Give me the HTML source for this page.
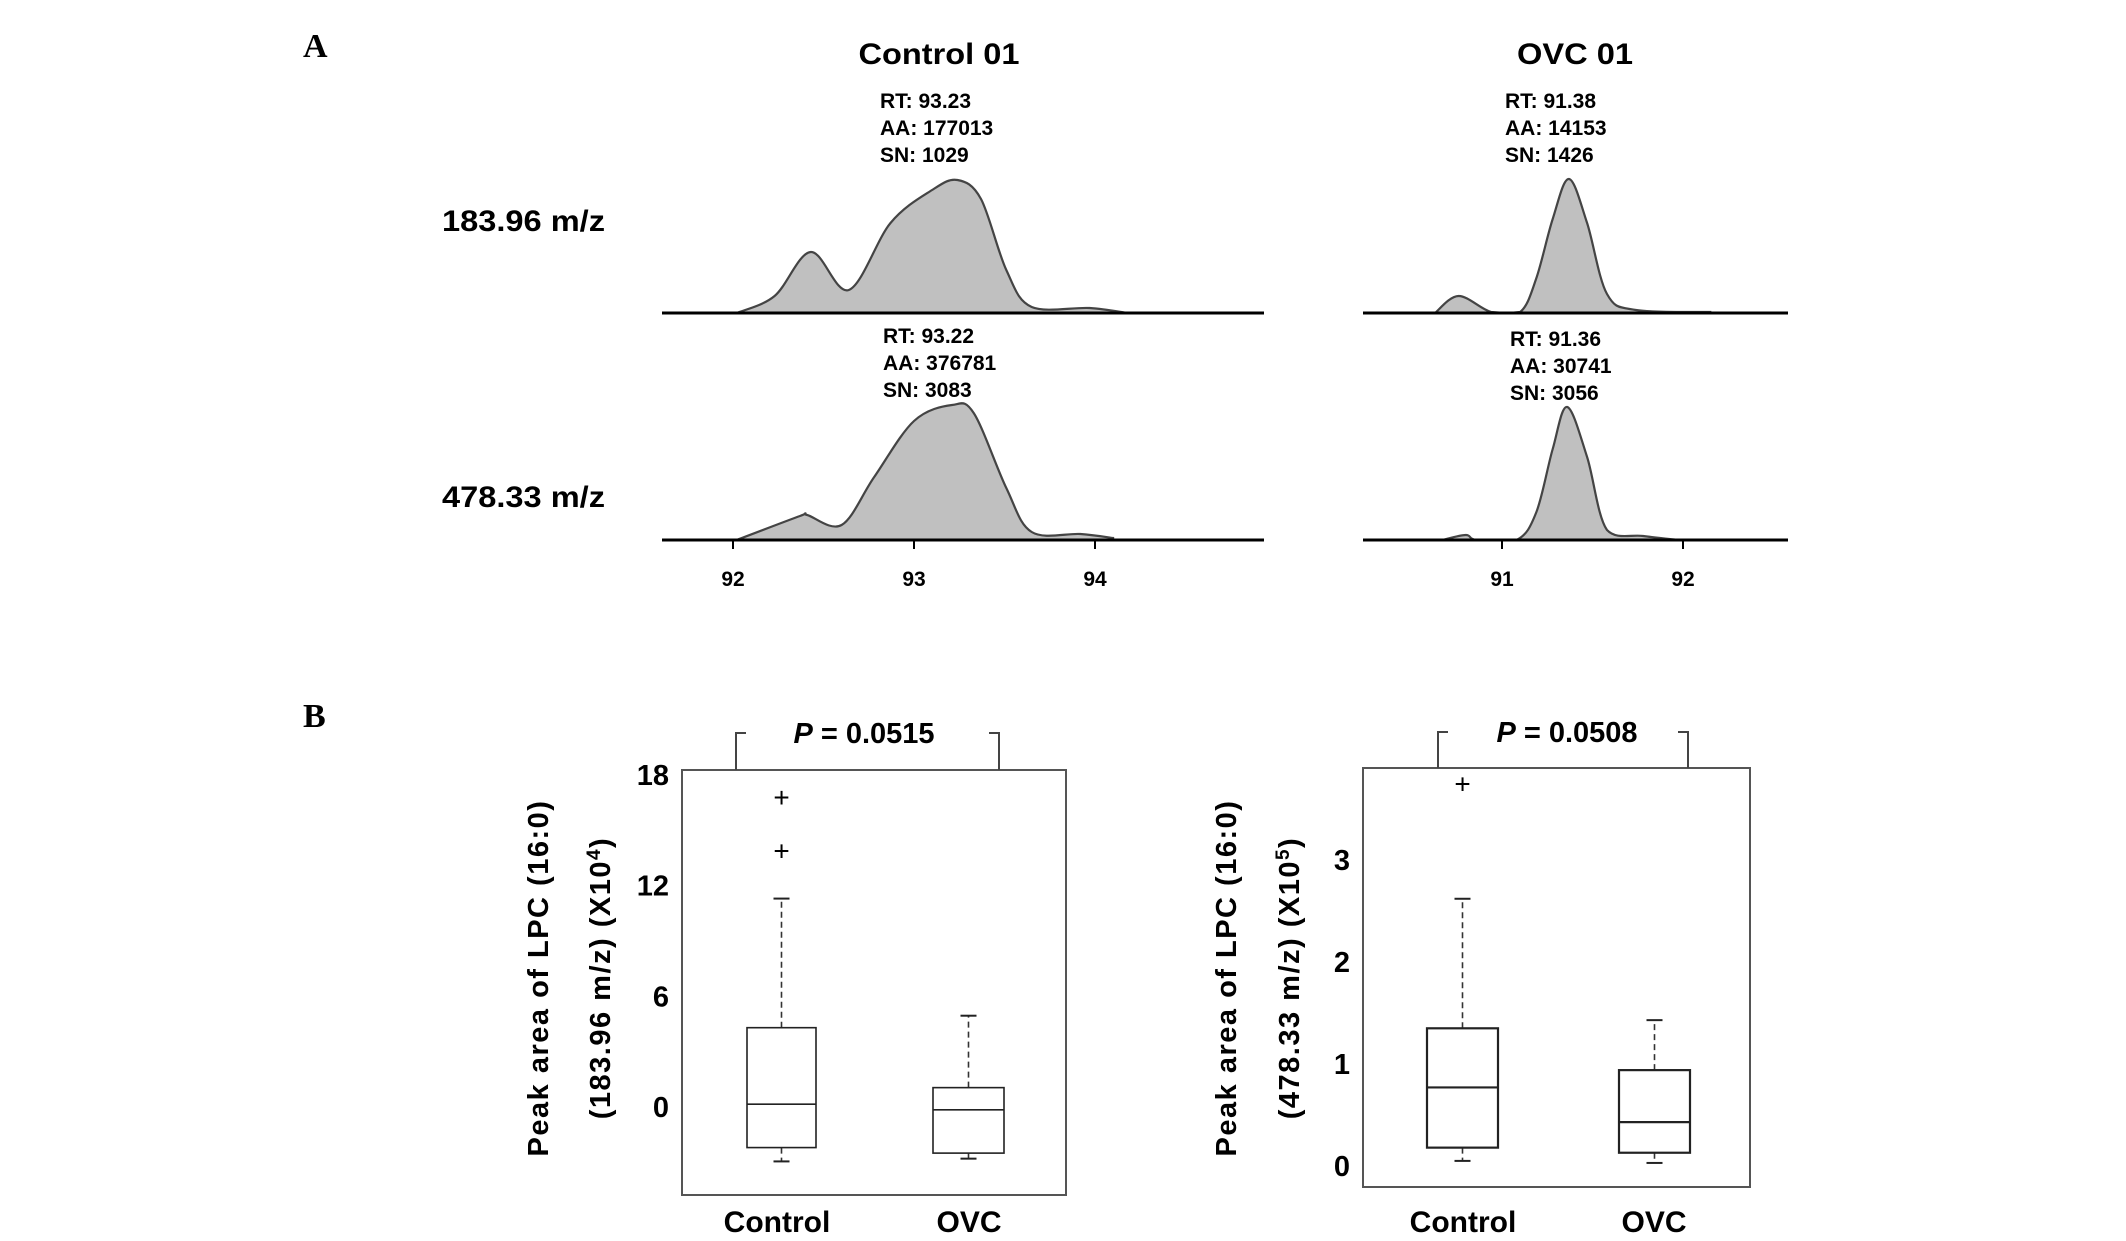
<!DOCTYPE html>
<html><head><meta charset="utf-8">
<style>
html,body{margin:0;padding:0;background:#fff;}
svg{display:block;font-family:"Liberation Sans",Arial,sans-serif;font-weight:bold;}
</style></head>
<body>
<svg id="fig" width="2126" height="1241" viewBox="0 0 2126 1241" xmlns="http://www.w3.org/2000/svg">
<rect width="2126" height="1241" fill="#fff"/>
<text x="303" y="57" font-family="Liberation Serif,serif" font-size="34">A</text>
<text x="303" y="727" font-family="Liberation Serif,serif" font-size="34">B</text>
<text x="939" y="64" text-anchor="middle" font-size="30" textLength="161" lengthAdjust="spacingAndGlyphs">Control 01</text>
<text x="1575" y="64" text-anchor="middle" font-size="30" textLength="116" lengthAdjust="spacingAndGlyphs">OVC 01</text>
<text x="442" y="231" font-size="30" textLength="163" lengthAdjust="spacingAndGlyphs">183.96 m/z</text>
<text x="442" y="507" font-size="30" textLength="163" lengthAdjust="spacingAndGlyphs">478.33 m/z</text>
<g id="chrom"></g>
<g id="boxes"></g>
</svg>
<script>
// ---- Chromatogram data (retention time, relative intensity) ----
const ctrl183RT = [92.02,92.23,92.43,92.64,92.87,93.10,93.24,93.37,93.51,93.65,93.97,94.18];
const ctrl183I  = [4,17,61,23,90,123,133,114,43,6,5,0];
const ctrl478RT = [92.02,92.37,92.41,92.60,92.78,93.00,93.21,93.33,93.51,93.65,93.92,94.10];
const ctrl478I  = [0,24,25,15,63,119,135,127,52,8,6,2];
const ovc183RT = [90.63,90.76,90.94,91.10,91.19,91.28,91.37,91.47,91.58,91.74,92.15];
const ovc183I  = [0,17,1,1,35,94,134,90,19,3,1];
const ovc478RT = [90.67,90.80,90.86,91.08,91.19,91.28,91.36,91.47,91.58,91.78,91.98];
const ovc478I  = [2,5,0,0,28,91,133,83,10,4,0];
const ctrlTicks = [92,93,94];
const ovcTicks = [91,92];

// ---- Box plot data ----
const groups = ["Control","OVC"];
// left plot (x10^4)
const lTicks = [18,12,6,0];
const lWhiskLo = [-2.95,-2.8];
const lQ1 = [-2.2,-2.5];
const lMed = [0.15,-0.15];
const lQ3 = [4.3,1.05];
const lWhiskHi = [11.3,4.95];
const lOutliers = [[16.8,13.9],[]];
// right plot (x10^5)
const rTicks = [3,2,1,0];
const rWhiskLo = [0.05,0.03];
const rQ1 = [0.18,0.13];
const rMed = [0.77,0.43];
const rQ3 = [1.35,0.94];
const rWhiskHi = [2.62,1.43];
const rOutliers = [[3.75],[]];

const NS="http://www.w3.org/2000/svg";
function mk(tag,attrs,parent){const e=document.createElementNS(NS,tag);for(const k in attrs)e.setAttribute(k,attrs[k]);parent.appendChild(e);return e;}

const chrom=document.getElementById('chrom');
function smoothPath(pts){
  let d="M"+pts[0][0]+","+pts[0][1];
  for(let i=0;i<pts.length-1;i++){
    const p0=pts[i-1]||pts[i],p1=pts[i],p2=pts[i+1],p3=pts[i+2]||p2;
    const c1=[p1[0]+(p2[0]-p0[0])/6,p1[1]+(p2[1]-p0[1])/6];
    const c2=[p2[0]-(p3[0]-p1[0])/6,p2[1]-(p3[1]-p1[1])/6];
    const b=pts[0][1];
    d+=` C${c1[0].toFixed(1)},${Math.min(c1[1],b).toFixed(1)} ${c2[0].toFixed(1)},${Math.min(c2[1],b).toFixed(1)} ${p2[0].toFixed(1)},${p2[1].toFixed(1)}`;
  }
  return d;
}
function drawPeak(rts,ints,xf,base,name){
  const pts=rts.map((r,i)=>[xf(r),Math.min(base,base-ints[i])]);
  pts[0][1]=base;
  let d=smoothPath(pts);
  const fill=d+` L${pts[pts.length-1][0]},${base} L${pts[0][0]},${base} Z`;
  const p=mk('path',{d:fill,fill:'#c0c0c0',stroke:'#444','stroke-width':2.2},chrom);
  
  
}
const xCtrl=r=>733+(r-92)*181;
const xOvc=r=>1502+(r-91)*181;
drawPeak(ctrl183RT,ctrl183I,xCtrl,313,'peak-control-183');
drawPeak(ctrl478RT,ctrl478I,xCtrl,540,'peak-control-478');
drawPeak(ovc183RT,ovc183I,xOvc,313,'peak-ovc-183');
drawPeak(ovc478RT,ovc478I,xOvc,540,'peak-ovc-478');
[[662,1264,313,'baseline-control-183'],[662,1264,540,'baseline-control-478'],[1363,1788,313,'baseline-ovc-183'],[1363,1788,540,'baseline-ovc-478']].forEach(a=>{
  const l=mk('line',{x1:a[0],x2:a[1],y1:a[2],y2:a[2],stroke:'#000','stroke-width':3},chrom);
  
  
});
function ticks(list,xf,pre){
  list.forEach(t=>{
    const x=xf(t);
    const l=mk('line',{x1:x,x2:x,y1:540,y2:549,stroke:'#000','stroke-width':2},chrom);
    
    
    const tx=mk('text',{x:x,y:586,'text-anchor':'middle','font-size':21},chrom);
    tx.textContent=t;
    
    
  });
}
ticks(ctrlTicks,xCtrl,'control-x');
ticks(ovcTicks,xOvc,'ovc-x');
function annot(x,y0,lines,name){
  lines.forEach((s,i)=>{
    const t=mk('text',{x:x,y:y0+i*27,'font-size':21},chrom);
    t.textContent=s;
    
    
  });
}
annot(880,108,["RT: 93.23","AA: 177013","SN: 1029"],'annot-control-183');
annot(1505,108,["RT: 91.38","AA: 14153","SN: 1426"],'annot-ovc-183');
annot(883,343,["RT: 93.22","AA: 376781","SN: 3083"],'annot-control-478');
annot(1510,346,["RT: 91.36","AA: 30741","SN: 3056"],'annot-ovc-478');

// ---- Box plots ----
const boxes=document.getElementById('boxes');
function boxPlot(cfg){
  const yf=v=>cfg.y0+(v)*(cfg.y1-cfg.y0)/cfg.v1;
  const fr=mk('rect',{x:cfg.fx1,y:cfg.fy1,width:cfg.fx2-cfg.fx1,height:cfg.fy2-cfg.fy1,fill:'none',stroke:'#555','stroke-width':2},boxes);
  
  
  cfg.ticks.forEach(t=>{
    const tx=mk('text',{x:cfg.fx1-13,y:yf(t)+10,'text-anchor':'end','font-size':29},boxes);
    tx.textContent=t;
    
    
  });
  groups.forEach((g,i)=>{
    const [bx1,bx2]=cfg.bx[i];const cx=(bx1+bx2)/2;
    const wl=mk('line',{x1:cx,x2:cx,y1:yf(cfg.q3[i]),y2:yf(cfg.wh[i]),stroke:'#333','stroke-width':1.6,'stroke-dasharray':'6,4'},boxes);
    
    
    const wl2=mk('line',{x1:cx,x2:cx,y1:yf(cfg.q1[i]),y2:yf(cfg.wl[i]),stroke:'#333','stroke-width':1.6,'stroke-dasharray':'6,4'},boxes);
    
    
    [cfg.wh[i],cfg.wl[i]].forEach(v=>{
      const c=mk('line',{x1:cx-8,x2:cx+8,y1:yf(v),y2:yf(v),stroke:'#222','stroke-width':2},boxes);
      
      
    });
    const r=mk('rect',{x:bx1,y:yf(cfg.q3[i]),width:bx2-bx1,height:yf(cfg.q1[i])-yf(cfg.q3[i]),fill:'#fff',stroke:'#222','stroke-width':cfg.sw},boxes);
    
    
    const m=mk('line',{x1:bx1,x2:bx2,y1:yf(cfg.med[i]),y2:yf(cfg.med[i]),stroke:'#222','stroke-width':cfg.sw},boxes);
    
    
    cfg.out[i].forEach(v=>{
      const o=mk('text',{x:cx,y:yf(v)+10,'text-anchor':'middle','font-size':28,'font-weight':'normal'},boxes);
      o.textContent='+';
      
      
    });
    const lb=mk('text',{x:cfg.lx[i],y:1232,'text-anchor':'middle','font-size':30},boxes);
    lb.textContent=g;
    
    
  });
  const br=mk('path',{d:`M${cfg.bl+10},${cfg.by} H${cfg.bl} V${cfg.fy1} M${cfg.br-10},${cfg.by} H${cfg.br} V${cfg.fy1}`,fill:'none',stroke:'#444','stroke-width':2},boxes);
  
  
  const pt=mk('text',{x:cfg.pcx,y:cfg.by+10,'text-anchor':'middle','font-size':29},boxes);
  pt.innerHTML='<tspan font-style="italic">P</tspan> = '+cfg.p;
  
  
  cfg.title.forEach((s,k)=>{
    const x=cfg.tx[k],y=978;
    const t=mk('text',{x:x,y:y,'text-anchor':'middle','font-size':29,'letter-spacing':'1.5',transform:`rotate(-90 ${x} ${y}) translate(0 10)`},boxes);
    t.innerHTML=s;
    
    
  });
}
boxPlot({name:'left-plot',y0:1107,y1:775,v1:18,fx1:682,fx2:1066,fy1:770,fy2:1195,ticks:lTicks,
  bx:[[747,816],[933,1004]],lx:[777,969],q1:lQ1,q3:lQ3,med:lMed,wh:lWhiskHi,wl:lWhiskLo,out:lOutliers,sw:1.6,
  bl:736,br:999,by:733,pcx:864,p:'0.0515',tx:[538,600],
  title:['Peak area of LPC (16:0)','(183.96 m/z) (X10<tspan dy="-10" font-size="19">4</tspan><tspan dy="10">)</tspan>']});
boxPlot({name:'right-plot',y0:1166,y1:860,v1:3,fx1:1363,fx2:1750,fy1:768,fy2:1187,ticks:rTicks,
  bx:[[1427,1498],[1619,1690]],lx:[1463,1654],q1:rQ1,q3:rQ3,med:rMed,wh:rWhiskHi,wl:rWhiskLo,out:rOutliers,sw:2.2,
  bl:1438,br:1688,by:732,pcx:1567,p:'0.0508',tx:[1226,1289],
  title:['Peak area of LPC (16:0)','(478.33 m/z) (X10<tspan dy="-10" font-size="19">5</tspan><tspan dy="10">)</tspan>']});
</script>
</body></html>
